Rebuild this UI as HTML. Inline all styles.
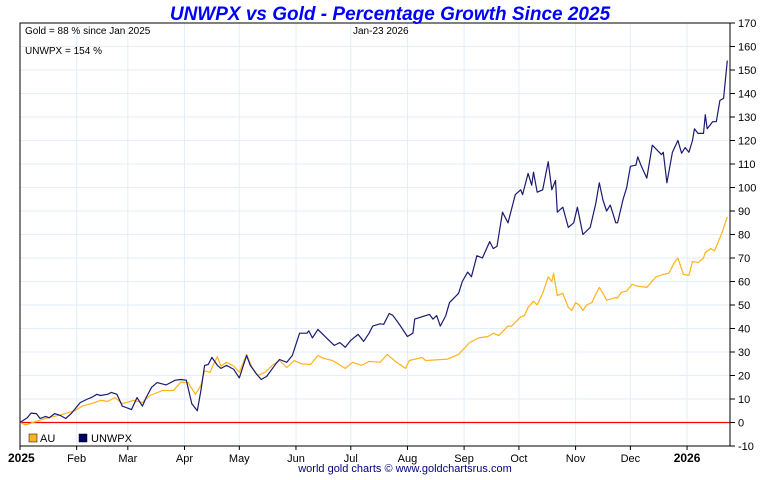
<!DOCTYPE html>
<html><head><meta charset="utf-8"><style>
html,body{margin:0;padding:0;background:#fff;}
svg text{font-family:"Liberation Sans",sans-serif;}
</style></head><body>
<svg id="chart" width="772" height="475" xmlns="http://www.w3.org/2000/svg">
<rect width="772" height="475" fill="#fff"/>
<g id="grid"></g>
<g id="axes"></g>
<g id="series"></g>
<text x="390" y="20" text-anchor="middle" font-size="19" font-weight="bold" font-style="italic" fill="#0000ff">UNWPX vs Gold - Percentage Growth Since 2025</text>
<text x="25" y="34" font-size="10" fill="#000">Gold = 88 % since Jan 2025</text>
<text x="353" y="34" font-size="10" fill="#000">Jan-23  2026</text>
<text x="25" y="54" font-size="10" fill="#000">UNWPX = 154 %</text>
<g>
<rect x="29" y="434" width="8" height="8" fill="#ffb31a" stroke="#000" stroke-width="0.5"/>
<text x="40" y="442" font-size="11">AU</text>
<rect x="79" y="434" width="8" height="8" fill="#000060" stroke="#000" stroke-width="0.5"/>
<text x="91" y="442" font-size="11">UNWPX</text>
</g>
<text x="405" y="472" text-anchor="middle" font-size="11" fill="#000080">world gold charts © www.goldchartsrus.com</text>
</svg>
<script>
const yTicks=[-10,0,10,20,30,40,50,60,70,80,90,100,110,120,130,140,150,160,170];
const monthLabels=["2025","Feb","Mar","Apr","May","Jun","Jul","Aug","Sep","Oct","Nov","Dec","2026"];
const monthDays=[0,31,59,90,120,151,181,212,243,273,304,334,365];
const goldDays=[0,3,7,15,21,30,34,39,44,48,52,56,62,67,71,78,84,88,92,96,99,101,104,106,108,110,113,117,120,124,127,130,134,138,142,146,150,154,159,163,166,171,178,182,187,191,197,201,206,211,213,220,222,234,240,246,251,256,259,262,267,269,274,276,278,281,283,286,289,291,292,294,297,300,302,304,306,308,310,313,315,317,319,321,325,327,329,332,335,338,343,348,352,355,358,360,363,366,368,371,374,375,378,380,384,387];
const goldVals=[0,-1,0,2,3,5,7,8,9.4,9,10.6,8,9.4,8.5,11.5,13.6,13.6,17.2,17,12,15.8,22,21.3,25,28,24,25.6,24,21.3,29,23.4,20,21.3,24.3,26.4,23.4,26.4,25,24.7,28.5,27.3,26.4,23,25.6,24.3,26,25.6,29,25.6,23,26.4,27.7,26.4,27,29,34,36,36.6,38,37,41,41,45,45.5,49,51.6,50,55,62,60,63.5,54,55,49,47.7,51,50,47.7,50,51,54.5,57.5,55,52,53,53,55.4,56,58.8,58,57.5,62,63,63.5,68,70,63,62.6,68.6,68,70,72.4,74,73,80.5,87.5];
const unwDays=[0,4,6,9,11,14,16,19,22,25,28,33,37,39,42,44,48,50,53,56,58,61,64,67,69,72,75,80,85,88,91,94,97,99,101,103,105,108,110,113,117,120,124,126,129,132,135,140,142,146,149,153,157,158,160,163,168,172,175,178,181,185,188,191,193,197,199,202,204,208,212,215,216,224,226,228,230,233,235,240,242,245,247,250,253,257,259,261,264,267,271,274,275,278,280,281,283,286,289,291,293,294,297,300,303,305,308,312,315,317,319,321,323,326,327,330,332,334,337,338,340,343,346,351,352,354,357,360,362,364,366,368,369,371,374,375,376,379,381,383,385,387];
const unwVals=[0,2,4,3.8,1.7,2.6,2,3.8,3,1.7,3.8,8.5,10,10.6,12,11.5,12,12.8,12,7,6.4,5.5,10.6,7,10.6,15,17,16,18,18.3,18,8,5,13.6,24.3,24.7,27.7,24.3,23,24.3,22.6,19,28.5,24.3,21,18.3,19.6,25,26.8,25.6,28.5,38,38,39,36,39.6,35.8,32.8,34,32,35,37.5,34.5,38,41,42,41.8,46.4,45.6,41.3,36.6,38,44,46,44,45.5,41,45.5,51,55,60,64,62,71,70,77,74,75,89.5,85,97,99,97,106,101,106.5,98,99,111,99,103,89.5,91.6,83,85,91.6,80,83,93,102,94.6,90,92.5,85,85,95,100,109,109.5,113,109,104,118,114,115,102,115,120,114.6,117,115,120,125,123,123,131,125,128,128,137,138,154];

const NS="http://www.w3.org/2000/svg";
const L=20,R=730,T=23,B=446;
const xS=d=>L+d*(R-L)/388.5;
const yS=v=>T+(170-v)*(B-T)/180;
function mk(tag,attrs,parent){const e=document.createElementNS(NS,tag);for(const k in attrs)e.setAttribute(k,attrs[k]);parent.appendChild(e);return e;}
const grid=document.getElementById('grid'),axes=document.getElementById('axes'),series=document.getElementById('series');
yTicks.forEach(v=>{
  const y=yS(v);
  const g=mk('line',{x1:L,x2:R,y1:y,y2:y,stroke:'#e3eef8','stroke-width':1},grid);
  
  
  const t=mk('line',{x1:R,x2:R+5,y1:y,y2:y,stroke:'#000'},axes);
  
  
  const lb=mk('text',{x:738,y:y+4,'font-size':11,fill:'#000'},axes);
  lb.textContent=v;
  
  
});
monthDays.forEach((d,i)=>{
  const x=xS(d);
  if(i>0){const g=mk('line',{x1:x,x2:x,y1:T,y2:B,stroke:'#e3eef8','stroke-width':1},grid);
  
  }
  const t=mk('line',{x1:x,x2:x,y1:B,y2:B+4,stroke:'#000'},axes);
  
  
  const bold=(i===0||i===12);
  const lb=mk('text',{x:i===0?x-12:x,y:462,'font-size':bold?12:11,'font-weight':bold?'bold':'normal','text-anchor':i===0?'start':'middle'},axes);
  lb.textContent=monthLabels[i];
  
  
});
const zl=mk('line',{x1:L,x2:R,y1:yS(0),y2:yS(0),stroke:'#ff0000','stroke-width':1.2},axes);


const fr=mk('rect',{x:L,y:T,width:R-L,height:B-T,fill:'none',stroke:'#000','stroke-width':1},axes);


function path(days,vals,color,name){
  const d=days.map((dd,i)=>(i?'L':'M')+xS(dd).toFixed(1)+','+yS(vals[i]).toFixed(1)).join('');
  const p=mk('path',{d:d,fill:'none',stroke:color,'stroke-width':1.2,'stroke-linejoin':'round'},series);
  
  
}
path(goldDays,goldVals,'#ffb31a','au-line');
path(unwDays,unwVals,'#1a1a70','unwpx-line');
</script>
</body></html>
